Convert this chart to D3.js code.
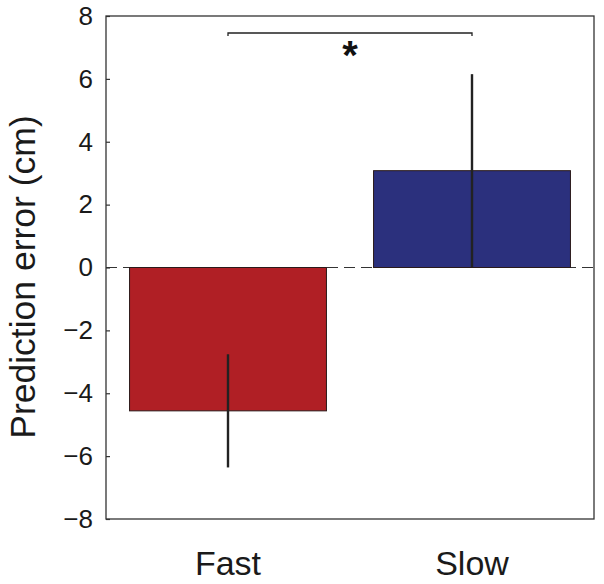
<!DOCTYPE html>
<html>
<head>
<meta charset="utf-8">
<script src="https://cdn.jsdelivr.net/npm/d3@7"></script>
<style>
  html, body { margin: 0; padding: 0; background: #fff; }
  svg { display: block; font-family: "Liberation Sans", Arial, Helvetica, sans-serif; }
</style>
</head>
<body>
<svg id="chart" width="604" height="584"></svg>
<script>
const categories = ["Fast", "Slow"];
const means = [-4.56, 3.08];
const errors = [1.80, 3.07];
const barColors = ["#B01F25", "#2B307D"];
const yTicks = [-8, -6, -4, -2, 0, 2, 4, 6, 8];
const yLabel = "Prediction error (cm)";
const sigMark = "*";

const svg = d3.select("#chart");
const plotL = 106, plotR = 594, plotT = 16, plotB = 519;

const y = d3.scaleLinear().domain([-8, 8]).range([plotB, plotT]);
const x = d3.scaleBand().domain(categories).range([plotL, plotR])
  .paddingInner(0.193).paddingOuter(0.0965);

// zero dashed line
svg.append("line")
  .attr("x1", plotL).attr("x2", plotR)
  .attr("y1", y(0)).attr("y2", y(0))
  .attr("stroke", "#333").attr("stroke-width", 1.2)
  .attr("stroke-dasharray", "11,6");

// bars
svg.selectAll("rect.bar").data(categories).join("rect")
  .attr("class", "bar")
  .attr("x", d => x(d))
  .attr("width", x.bandwidth())
  .attr("y", (d, i) => y(Math.max(0, means[i])))
  .attr("height", (d, i) => Math.abs(y(means[i]) - y(0)))
  .attr("fill", (d, i) => barColors[i])
  .attr("stroke", "#2a1a1a").attr("stroke-width", 1);

// error bars
svg.selectAll("line.err").data(categories).join("line")
  .attr("class", "err")
  .attr("x1", d => x(d) + x.bandwidth() / 2)
  .attr("x2", d => x(d) + x.bandwidth() / 2)
  .attr("y1", (d, i) => y(means[i] + errors[i]))
  .attr("y2", (d, i) => y(means[i] - errors[i]))
  .attr("stroke", "#222").attr("stroke-width", 2.4);

// frame
svg.append("rect")
  .attr("x", plotL).attr("y", plotT)
  .attr("width", plotR - plotL).attr("height", plotB - plotT)
  .attr("fill", "none").attr("stroke", "#333").attr("stroke-width", 1.3);

// y axis ticks (inward) and labels
const yAxis = d3.axisLeft(y).tickValues(yTicks).tickSize(-4).tickPadding(13)
  .tickFormat(d => d < 0 ? "\u2212" + Math.abs(d) : String(d));
const gy = svg.append("g").attr("transform", `translate(${plotL},0)`).call(yAxis);
gy.select(".domain").remove();
gy.selectAll(".tick line").attr("stroke", "#333").attr("stroke-width", 1.2);
gy.selectAll(".tick text").attr("font-size", 26).attr("fill", "#1a1a1a")
  .attr("font-family", "'Liberation Sans', Arial, sans-serif");

// x axis labels
const xAxis = d3.axisBottom(x).tickSize(0).tickPadding(32);
const gx = svg.append("g").attr("transform", `translate(0,${plotB})`).call(xAxis);
gx.select(".domain").remove();
gx.selectAll(".tick text").attr("font-size", 34).attr("fill", "#1a1a1a")
  .attr("font-family", "'Liberation Sans', Arial, sans-serif");

// y label
svg.append("text")
  .attr("transform", `translate(35,277) rotate(-90)`)
  .attr("text-anchor", "middle")
  .attr("font-size", 35.5).attr("fill", "#1a1a1a")
  .text(yLabel);

// significance bracket
const cx0 = x(categories[0]) + x.bandwidth() / 2;
const cx1 = x(categories[1]) + x.bandwidth() / 2;
const by = 33;
svg.append("path")
  .attr("d", `M${cx0},${by + 3}V${by}H${cx1}V${by + 3}`)
  .attr("fill", "none").attr("stroke", "#222").attr("stroke-width", 1.3);
svg.append("text")
  .attr("x", (cx0 + cx1) / 2).attr("y", 69)
  .attr("text-anchor", "middle")
  .attr("font-size", 40).attr("font-weight", "bold").attr("fill", "#111")
  .text(sigMark);
</script>
</body>
</html>
